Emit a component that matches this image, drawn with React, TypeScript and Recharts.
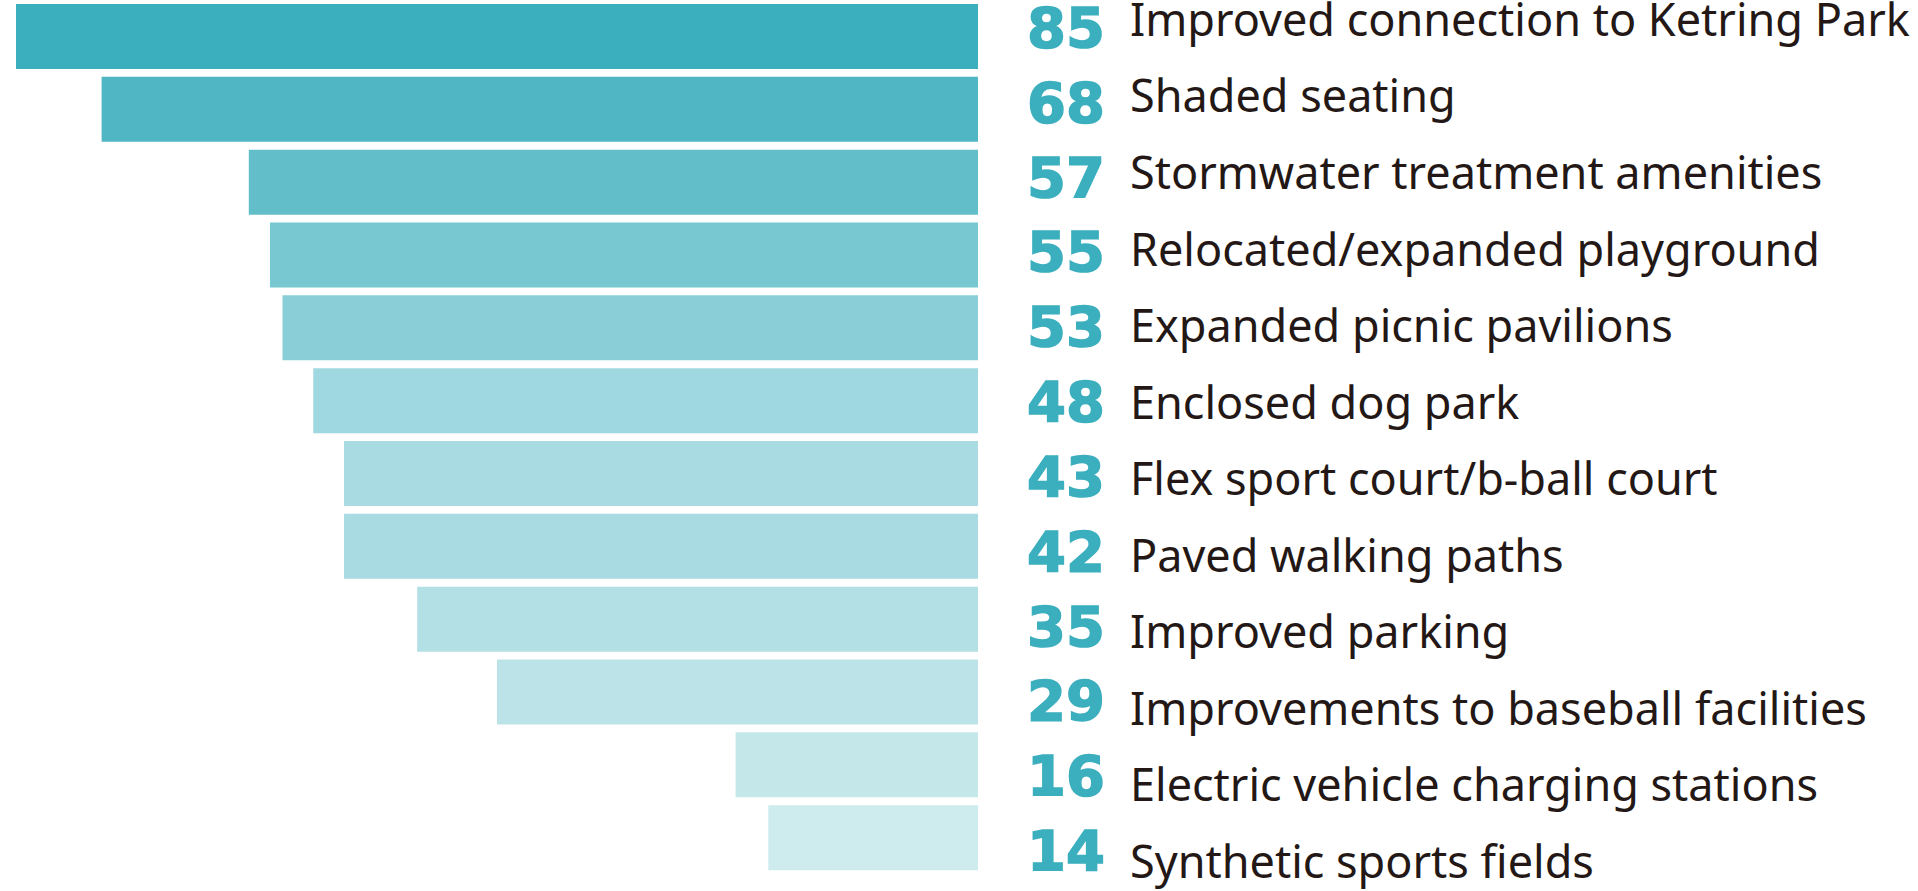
import { BarChart, Bar, XAxis, YAxis, Cell } from 'recharts';

const CATEGORIES = [
  'Improved connection to Ketring Park',
  'Shaded seating',
  'Stormwater treatment amenities',
  'Relocated/expanded playground',
  'Expanded picnic pavilions',
  'Enclosed dog park',
  'Flex sport court/b-ball court',
  'Paved walking paths',
  'Improved parking',
  'Improvements to baseball facilities',
  'Electric vehicle charging stations',
  'Synthetic sports fields',
];

const RESPONSES = [85, 68, 57, 55, 53, 48, 43, 42, 35, 29, 16, 14];

// bar lengths as drawn in the graphic (not to scale), % of the longest bar
const BAR_LENGTHS = [100, 91.1, 75.8, 73.6, 72.3, 69.1, 65.9, 65.9, 58.3, 50.0, 25.2, 21.8];

const BAR_COLORS = [
  '#3bafbe', '#50b6c4', '#62bfca', '#77c8d1', '#8acfd8', '#9fd8e0',
  '#a8dbe2', '#a8dbe2', '#b3e0e5', '#bce3e7', '#c4e7ea', '#ceeced',
];

const data = CATEGORIES.map((name, i) => ({
  name,
  count: RESPONSES[i],
  length: BAR_LENGTHS[i],
}));

const ACCENT = '#3bafbe';
const INK = '#231815';

function RowLabel(props: any) {
  const { x, y, payload } = props;
  const i = CATEGORIES.indexOf(payload.value);
  return (
    <g>
      <text
        x={x + 127}
        y={y + 10.5 + 2 * i}
        textAnchor="end"
        fill={ACCENT}
        stroke={ACCENT}
        strokeWidth={1.5}
        fontFamily="DejaVu Sans"
        fontWeight={700}
        fontSize={56}
      >
        {RESPONSES[i]}
      </text>
      <text
        x={x + 152}
        y={y - 0.5 + 3.7 * i}
        textAnchor="start"
        fill={INK}
        fontFamily="Noto Sans"
        fontSize={45}
      >
        {payload.value}
      </text>
    </g>
  );
}

export default function App() {
  return (
    <div style={{ width: 1918, height: 891, background: '#fff' }}>
      <style>{'body{margin:0}'}</style>
      <BarChart
        width={1918}
        height={891}
        data={data}
        layout="vertical"
        margin={{ top: 0, right: 0, bottom: 17, left: 16 }}
      >
        <XAxis type="number" domain={[0, 100]} reversed hide />
        <YAxis
          type="category"
          dataKey="name"
          orientation="right"
          width={940}
          interval={0}
          tickLine={false}
          axisLine={false}
          tickSize={0}
          tickMargin={0}
          tick={<RowLabel />}
        />
        <Bar dataKey="length" barSize={65} isAnimationActive={false}>
          {data.map((d, i) => (
            <Cell key={d.name} fill={BAR_COLORS[i]} />
          ))}
        </Bar>
      </BarChart>
    </div>
  );
}
